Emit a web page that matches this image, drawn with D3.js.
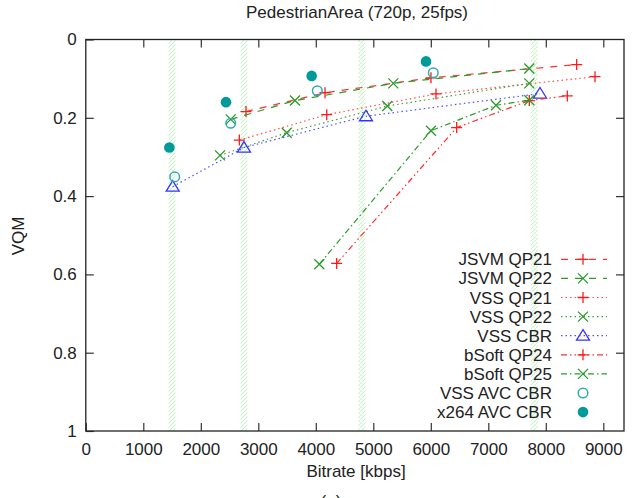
<!DOCTYPE html>
<html><head><meta charset="utf-8">
<script src="https://cdn.jsdelivr.net/npm/d3@7"></script>
<style>body{margin:0;background:#fff}svg{display:block}text{font-family:"Liberation Sans",Arial,sans-serif;fill:#222}</style>
</head><body><svg id="c" width="634" height="498"></svg>
<script>
const xTicks=[0,1000,2000,3000,4000,5000,6000,7000,8000,9000];
const yTicks=[0,0.2,0.4,0.6,0.8,1];
const yTickLabels=["0","0.2","0.4","0.6","0.8","1"];
const bandX=[1500,2750,4800,7800];

const jsvm21X=[2786,4160,6003,8537], jsvm21Y=[0.184,0.136,0.098,0.064];
const jsvm22X=[2520,3638,5348,7713], jsvm22Y=[0.204,0.156,0.112,0.074];
const vss21X=[2670,4190,6090,8856], vss21Y=[0.257,0.192,0.139,0.095];
const vss22X=[2334,3494,5243,7713], vss22Y=[0.296,0.238,0.170,0.112];
const vssCbrX=[1511,2751,4873,7899], vssCbrY=[0.376,0.276,0.196,0.138];
const bs24X=[4363,6450,7713,8374], bs24Y=[0.572,0.225,0.156,0.144];
const bs25X=[4061,6003,7134,7713], bs25Y=[0.574,0.233,0.168,0.155];
const vssAvcX=[1546,2520,4026,6043], vssAvcY=[0.351,0.214,0.131,0.085];
const x264X=[1453,2438,3928,5917], x264Y=[0.276,0.160,0.093,0.056];

const seriesNames=["JSVM QP21","JSVM QP22","VSS QP21","VSS QP22","VSS CBR","bSoft QP24","bSoft QP25","VSS AVC CBR","x264 AVC CBR"];

const RED="#ff1a1a", GRN="#2a9a2a", BLU="#3333ff", TEAL="#009a9a", TEAL2="#33aab0";
const series=[
 {xs:jsvm21X,ys:jsvm21Y,color:RED,dash:"7,7",mk:"plus",lc:"#ff3030"},
 {xs:jsvm22X,ys:jsvm22Y,color:GRN,dash:"7,7",mk:"cross",lc:"#2a9a2a"},
 {xs:vss21X,ys:vss21Y,color:RED,dash:"1.5,3",mk:"plus",lc:"#ff5050"},
 {xs:vss22X,ys:vss22Y,color:GRN,dash:"1.5,3",mk:"cross",lc:"#40a040"},
 {xs:vssCbrX,ys:vssCbrY,color:BLU,dash:"1.5,3",mk:"tri",lc:"#5050ff"},
 {xs:bs24X,ys:bs24Y,color:RED,dash:"6,3,1.5,3,1.5,3",mk:"plus",lc:"#ff3030"},
 {xs:bs25X,ys:bs25Y,color:GRN,dash:"6,3,1.5,3",mk:"cross",lc:"#2a9a2a"},
 {xs:vssAvcX,ys:vssAvcY,color:TEAL2,dash:null,mk:"ocirc"},
 {xs:x264X,ys:x264Y,color:TEAL,dash:null,mk:"fcirc"}
];

const L=85.8,R=624,T=39.5,B=431;
const svg=d3.select("#c");
const x=d3.scaleLinear().domain([0,9360]).range([L,R]);
const y=d3.scaleLinear().domain([0,1]).range([T,B]);

// hatch pattern
const defs=svg.append("defs");
const pat=defs.append("pattern").attr("id","hatch").attr("patternUnits","userSpaceOnUse").attr("width",4).attr("height",4);
pat.append("path").attr("d","M-1,5 L5,-1").attr("stroke","#cdf1cd").attr("stroke-width",1.2);
svg.selectAll("rect.band").data(bandX).enter().append("rect").attr("class","band")
 .attr("x",d=>x(d)-3.5).attr("y",T).attr("width",7).attr("height",B-T).attr("fill","url(#hatch)");

// axes
const fs=17;
const xb=svg.append("g").attr("transform",`translate(0,${B})`).call(d3.axisBottom(x).tickValues(xTicks).tickSize(-8).tickPadding(12).tickFormat(d3.format("d")));
const xt=svg.append("g").attr("transform",`translate(0,${T})`).call(d3.axisTop(x).tickValues(xTicks.slice(1)).tickSize(-8).tickFormat(""));
const yl=svg.append("g").attr("transform",`translate(${L},0)`).call(d3.axisLeft(y).tickValues(yTicks).tickSize(-8).tickPadding(9).tickFormat((d,i)=>yTickLabels[i]));
const yr=svg.append("g").attr("transform",`translate(${R},0)`).call(d3.axisRight(y).tickValues(yTicks.slice(1,-1)).tickSize(-8).tickFormat(""));
[xb,xt,yl,yr].forEach(g=>{g.select(".domain").remove();g.selectAll("line").attr("stroke","#333").attr("stroke-width",1.2);
 g.selectAll("text").attr("font-size",fs).attr("font-family","Liberation Sans, Arial, sans-serif").attr("fill","#222");});
xb.selectAll("text").attr("dy","0.71em");
svg.append("rect").attr("x",L).attr("y",T).attr("width",R-L).attr("height",B-T).attr("fill","none").attr("stroke","#222").attr("stroke-width",1.3);

// titles
svg.append("text").attr("x",357).attr("y",18).attr("text-anchor","middle").attr("font-size",fs).text("PedestrianArea (720p, 25fps)");
svg.append("text").attr("x",356).attr("y",477).attr("text-anchor","middle").attr("font-size",fs).text("Bitrate [kbps]");
svg.append("text").attr("transform","translate(24,236) rotate(-90)").attr("text-anchor","middle").attr("font-size",fs).text("VQM");
svg.append("text").attr("x",331).attr("y",507).attr("text-anchor","middle").attr("font-size",fs).text("(a)");

function marker(g,type,cx,cy,color){
 if(type==="plus"){g.append("path").attr("d",`M${cx-5.5},${cy}H${cx+5.5}M${cx},${cy-5.5}V${cy+5.5}`).attr("stroke",color).attr("stroke-width",1.3).attr("fill","none");}
 else if(type==="cross"){g.append("path").attr("d",`M${cx-5},${cy-5}L${cx+5},${cy+5}M${cx-5},${cy+5}L${cx+5},${cy-5}`).attr("stroke",color).attr("stroke-width",1.3).attr("fill","none");}
 else if(type==="tri"){g.append("path").attr("d",`M${cx},${cy-6}L${cx+6.5},${cy+4.5}L${cx-6.5},${cy+4.5}Z`).attr("stroke",color).attr("stroke-width",1.3).attr("fill","none");}
 else if(type==="ocirc"){g.append("circle").attr("cx",cx).attr("cy",cy).attr("r",4.8).attr("stroke",color).attr("stroke-width",1.5).attr("fill","none");}
 else if(type==="fcirc"){g.append("circle").attr("cx",cx).attr("cy",cy).attr("r",5.3).attr("fill",color);}
}

const line=d3.line().x(d=>x(d[0])).y(d=>y(d[1]));
const plot=svg.append("g");
series.forEach(s=>{
 const pts=s.xs.map((v,i)=>[v,s.ys[i]]);
 if(s.dash){plot.append("path").datum(pts).attr("d",line).attr("fill","none").attr("stroke",s.lc).attr("stroke-width",1.2).attr("stroke-dasharray",s.dash);}
 pts.forEach(p=>marker(plot,s.mk,x(p[0]),y(p[1]),s.color));
});

// legend
const lg=svg.append("g");
seriesNames.forEach((n,i)=>{
 const cy=259.3+i*19.1;
 lg.append("text").attr("x",552).attr("y",cy+6).attr("text-anchor","end").attr("font-size",fs).text(n);
 const s=series[i];
 if(s.dash) lg.append("line").attr("x1",561).attr("x2",607).attr("y1",cy).attr("y2",cy).attr("stroke",s.lc).attr("stroke-width",1.2).attr("stroke-dasharray",s.dash);
 marker(lg,s.mk,583,cy,s.color);
});
</script></body></html>
